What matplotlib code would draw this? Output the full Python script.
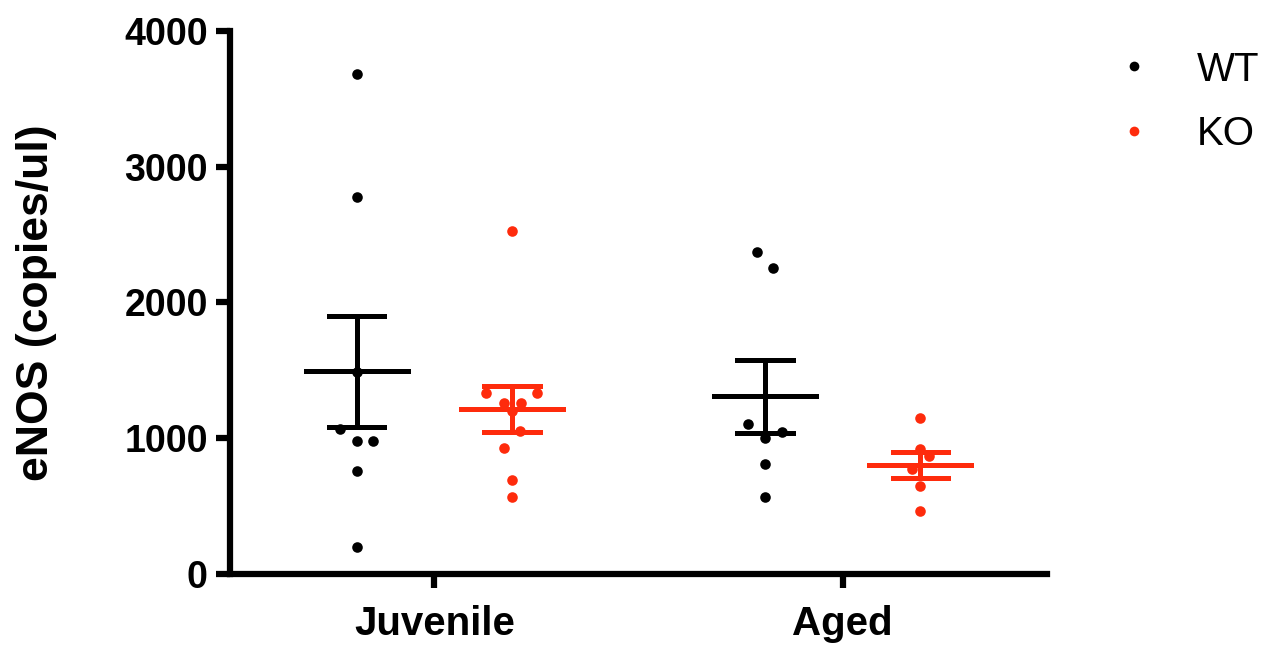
import numpy as np
import matplotlib
matplotlib.use("Agg")
import matplotlib.pyplot as plt
from matplotlib.lines import Line2D

plt.rcParams['font.family'] = ['Liberation Sans', 'DejaVu Sans']

groups = ["Juvenile", "Aged"]
genotypes = ["WT", "KO"]
colors = {"WT": "black", "KO": "#fe2b0c"}

# eNOS copies/ul per animal
wt_juvenile = [3683, 2777, 1488, 1068, 980, 980, 759, 199]
ko_juvenile = [2528, 1336, 1336, 1257, 1257, 1200, 1053, 926, 690, 567]
wt_aged = [2372, 2256, 1103, 1046, 1004, 808, 567]
ko_aged = [1152, 918, 869, 776, 648, 464]

# horizontal scatter so overlapping dots stay visible
wt_juvenile_jit = [0, 0, 0, -0.041, 0, 0.041, 0, 0]
ko_juvenile_jit = [0, -0.063, 0.061, -0.02, 0.022, 0, 0.02, -0.02, 0, 0]
wt_aged_jit = [-0.02, 0.02, -0.041, 0.041, 0, 0, 0]
ko_aged_jit = [0, 0, 0.02, -0.02, 0, 0]

data = {
    ("Juvenile", "WT"): (wt_juvenile, wt_juvenile_jit),
    ("Juvenile", "KO"): (ko_juvenile, ko_juvenile_jit),
    ("Aged", "WT"): (wt_aged, wt_aged_jit),
    ("Aged", "KO"): (ko_aged, ko_aged_jit),
}

offset = {"WT": -0.19, "KO": 0.19}
lw = 3.6

fig = plt.figure(figsize=(12.76, 6.46), dpi=100)
ax = fig.add_axes([0.1803, 0.1115, 0.6402, 0.8406])

for gi, g in enumerate(groups):
    for gt in genotypes:
        vals, jit = data[(g, gt)]
        vals = np.array(vals, dtype=float)
        xc = gi + offset[gt]
        c = colors[gt]
        ax.scatter(xc + np.array(jit), vals, s=58, color=c, zorder=3, linewidths=0)
        # mean +/- SEM
        m = vals.mean()
        sem = vals.std(ddof=1) / np.sqrt(len(vals))
        ax.plot([xc - 0.125, xc + 0.125], [m, m], color=c, lw=lw, zorder=4)
        ax.plot([xc, xc], [m - sem, m + sem], color=c, lw=lw, zorder=4)
        for yy in (m - sem, m + sem):
            ax.plot([xc - 0.068, xc + 0.068], [yy, yy], color=c, lw=lw, zorder=4)

ax.set_xlim(-0.5, 1.5)
ax.set_ylim(0, 4000)
ax.set_yticks([0, 1000, 2000, 3000, 4000])
ax.set_xticks(range(len(groups)))
ax.set_xticklabels(groups)

for side in ("top", "right"):
    ax.spines[side].set_visible(False)
for side in ("left", "bottom"):
    ax.spines[side].set_linewidth(4.5)
    ax.spines[side].set_capstyle("projecting")

ax.tick_params(axis="both", direction="out", length=10, width=4.5)
ax.tick_params(axis="y", pad=6, labelsize=27)
ax.tick_params(axis="x", pad=12, labelsize=29)
for t in ax.get_xticklabels() + ax.get_yticklabels():
    t.set_fontweight("bold")

ax.set_ylabel("eNOS (copies/ul)", fontsize=32, fontweight="bold")
ax.yaxis.set_label_coords(-0.212, 0.5)

handles = [Line2D([], [], marker="o", linestyle="none", color=colors[gt],
                  markersize=7, markeredgewidth=0) for gt in genotypes]
ax.legend(handles, genotypes, loc="upper left", bbox_to_anchor=(0.857, 0.953),
          bbox_transform=fig.transFigure, frameon=False, fontsize=29,
          handlelength=1.0, handletextpad=1.07, labelspacing=0.65,
          borderpad=0)

fig.savefig("out.png", dpi=100)
